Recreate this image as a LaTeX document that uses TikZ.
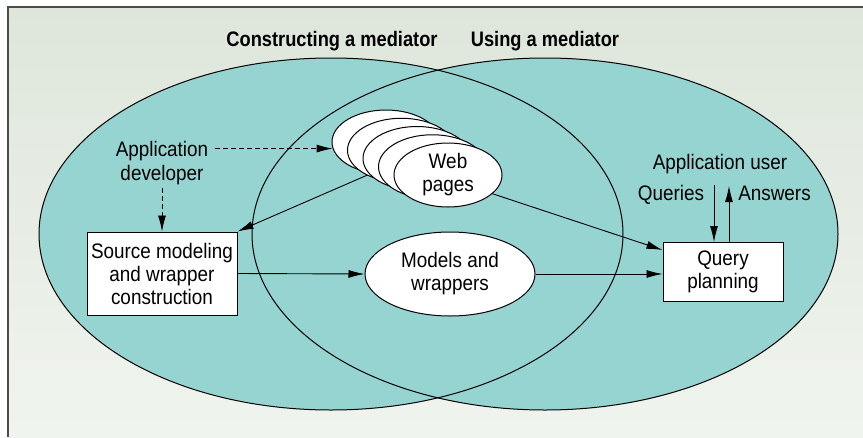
\documentclass[tikz,border=0pt]{standalone}
\usepackage{fontspec}
\setmainfont[FakeStretch=0.9,BoldFeatures={FakeStretch=0.87}]{Liberation Sans}
\usetikzlibrary{arrows.meta,calc,shapes.geometric,positioning}

\definecolor{mediatorteal}{RGB}{150,212,210}
\definecolor{paneltop}{RGB}{222,230,219}
\definecolor{panelbottom}{RGB}{240,244,238}

\tikzset{
  lbl/.style={align=center, font=\fontsize{21}{23}\selectfont},
  box/.style={lbl, draw, fill=white, line width=1pt, inner sep=0pt},
  pageell/.style={lbl, ellipse, draw, fill=white, line width=1pt,
    minimum width=108pt, minimum height=64pt, inner sep=0pt},
  flow/.style={-{Latex[length=16pt,width=8pt]}, line width=0.9pt},
  dashflow/.style={flow, dash pattern=on 5pt off 3pt},
}

\begin{document}
\begin{tikzpicture}[x=1pt,y=-1pt]
\useasboundingbox (0,0) rectangle (863,437);

% Panel with frame on top and left
\shade[top color=paneltop, bottom color=panelbottom] (8,7) rectangle (863,437);
\draw[line width=1.6pt, black!70] (8,437) -- (8,7) -- (863,7);

% The two overlapping regions
\fill[mediatorteal] (331,234) ellipse [x radius=292pt, y radius=176pt];
\fill[mediatorteal] (545,234) ellipse [x radius=293pt, y radius=176pt];
\draw[line width=1pt] (331,234) ellipse [x radius=292pt, y radius=176pt];
\draw[line width=1pt] (545,234) ellipse [x radius=293pt, y radius=176pt];

\node[lbl, font=\fontsize{21}{23}\selectfont\bfseries] (constructing) at (332,41) {Constructing a mediator};
\node[lbl, font=\fontsize{21}{23}\selectfont\bfseries] (using) at (545,41) {Using a mediator};

% Nodes
\node[lbl, font=\fontsize{21}{24}\selectfont] (developer) at (162,163) {Application\\developer};
\node[box, minimum width=150pt, minimum height=83pt] (source) at (162,273.5)
  {Source modeling\\and wrapper\\construction};
\node[lbl, ellipse, draw, fill=white, line width=1pt, minimum width=170pt,
  minimum height=84pt, inner sep=0pt] (models) at (450,274) {Models and\\wrappers};
\node[box, minimum width=120pt, minimum height=59pt] (query) at (723,272) {Query\\planning};

\node[lbl] (appuser) at (720,164.5) {Application user};
\node[lbl, anchor=base] (queries) at (671,200) {Queries};
\node[lbl, anchor=base] (answers) at (774.5,200) {Answers};

% Stack of web pages
\foreach \i in {1,...,5}
  \coordinate (stack\i) at ({386+15.5*(\i-1)},{142+8.25*(\i-1)});

\draw[flow] ([yshift=5pt]stack3) -- (source.north east);
\draw[flow] ([yshift=-4pt]stack5) -- ([yshift=-8pt]query.north west);

\foreach \i in {1,...,4}
  \node[pageell] (page\i) at (stack\i) {};
\node[pageell] (page5) at (stack5) {Web\\pages};

% Connectors
\draw[dashflow] ([xshift=3pt]developer.north east |- page1.187) -- (page1.187);
\draw[dashflow] (developer.south) -- (source.north);
\draw[flow] (source.east) -- (models.west);
\draw[flow] (models.east) -- (models.east -| query.west);

\coordinate (qtop) at (714,185);
\coordinate (atop) at (729,186);
\draw[flow] (qtop) -- (qtop |- query.north);
\draw[flow] (atop |- query.north) -- (atop);

\end{tikzpicture}
\end{document}
